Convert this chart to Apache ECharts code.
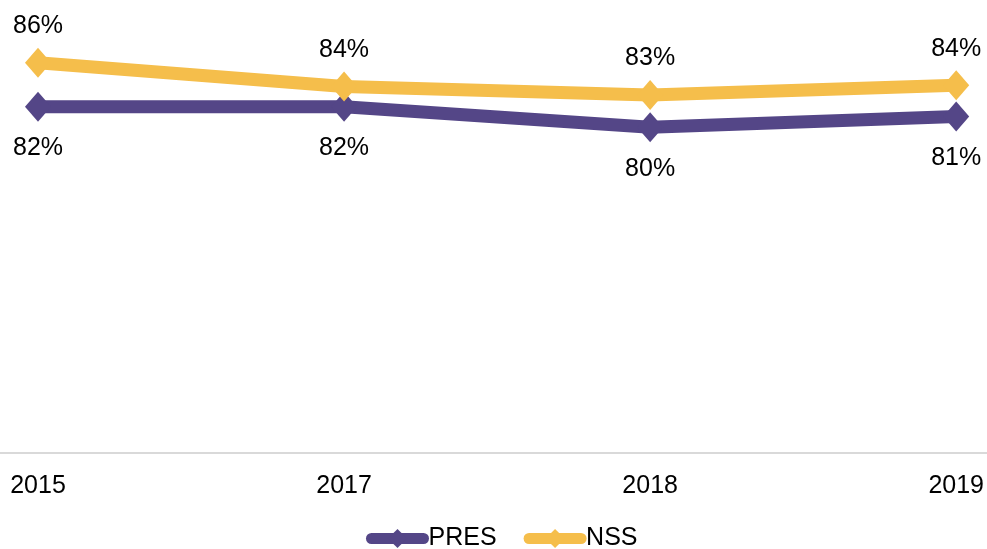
<!DOCTYPE html>
<html>
<head>
<meta charset="utf-8">
<style>
  html, body { margin: 0; padding: 0; background: #ffffff; }
  #chart { width: 987px; height: 549px; }
</style>
<script src="https://cdn.jsdelivr.net/npm/echarts@6/dist/echarts.min.js"></script>
</head>
<body>
<div id="chart"></div>
<script>
// Survey years on the horizontal axis
const years = ['2015', '2017', '2018', '2019'];
// Overall satisfaction, percent
const presValues = [82.2, 82.2, 80.3, 81.3];
const nssValues = [86.3, 84.1, 83.3, 84.2];

const PURPLE = '#544687';
const YELLOW = '#F5BE4B';
const FONT = '"Liberation Sans", Arial, sans-serif';
const FONT_SIZE = 25;

const pct = p => Math.round(p.value) + '%';

const chart = echarts.init(document.getElementById('chart'), null, { renderer: 'canvas' });

function lineSeries(name, data, color, labelPos, dist) {
  return {
    name: name,
    type: 'line',
    data: data,
    symbol: 'diamond',
    symbolSize: [26, 30],
    showAllSymbol: true,
    lineStyle: { color: color, width: 13 },
    itemStyle: { color: color },
    emphasis: { disabled: true },
    label: {
      show: true,
      position: labelPos,
      distance: dist,
      formatter: pct,
      color: '#000000',
      fontSize: FONT_SIZE,
      fontFamily: FONT
    },
    z: name === 'NSS' ? 3 : 2
  };
}

chart.setOption({
  animation: false,
  backgroundColor: '#ffffff',
  grid: [
    // plotting area
    { left: 38, right: 28, top: 23, bottom: 96, containLabel: false },
    // full-width baseline
    { left: 0, right: 0, bottom: 96, height: 0, containLabel: false }
  ],
  xAxis: [
    {
      type: 'category',
      gridIndex: 0,
      data: years,
      boundaryGap: false,
      axisLine: { show: false },
      axisTick: { show: false },
      axisLabel: { color: '#000000', fontSize: FONT_SIZE, fontFamily: FONT, margin: 21 },
      splitLine: { show: false }
    },
    {
      type: 'value',
      gridIndex: 1,
      min: 0,
      max: 1,
      axisLine: { show: true, lineStyle: { color: '#D9D9D9', width: 2 } },
      axisTick: { show: false },
      axisLabel: { show: false },
      splitLine: { show: false }
    }
  ],
  yAxis: [
    { type: 'value', gridIndex: 0, min: 50, max: 90, show: false, splitLine: { show: false } },
    { type: 'value', gridIndex: 1, min: 0, max: 1, show: false, splitLine: { show: false } }
  ],
  legend: {
    data: ['PRES', 'NSS'],
    top: 521,
    left: 361,
    itemWidth: 52,
    itemHeight: 24,
    itemGap: 27,
    lineStyle: { width: 11, cap: 'round' },
    textStyle: { color: '#000000', fontSize: FONT_SIZE, fontFamily: FONT },
    padding: 5
  },
  series: [
    lineSeries('PRES', presValues, PURPLE, 'bottom', 14),
    lineSeries('NSS', nssValues, YELLOW, 'top', 9)
  ]
});
</script>
</body>
</html>
